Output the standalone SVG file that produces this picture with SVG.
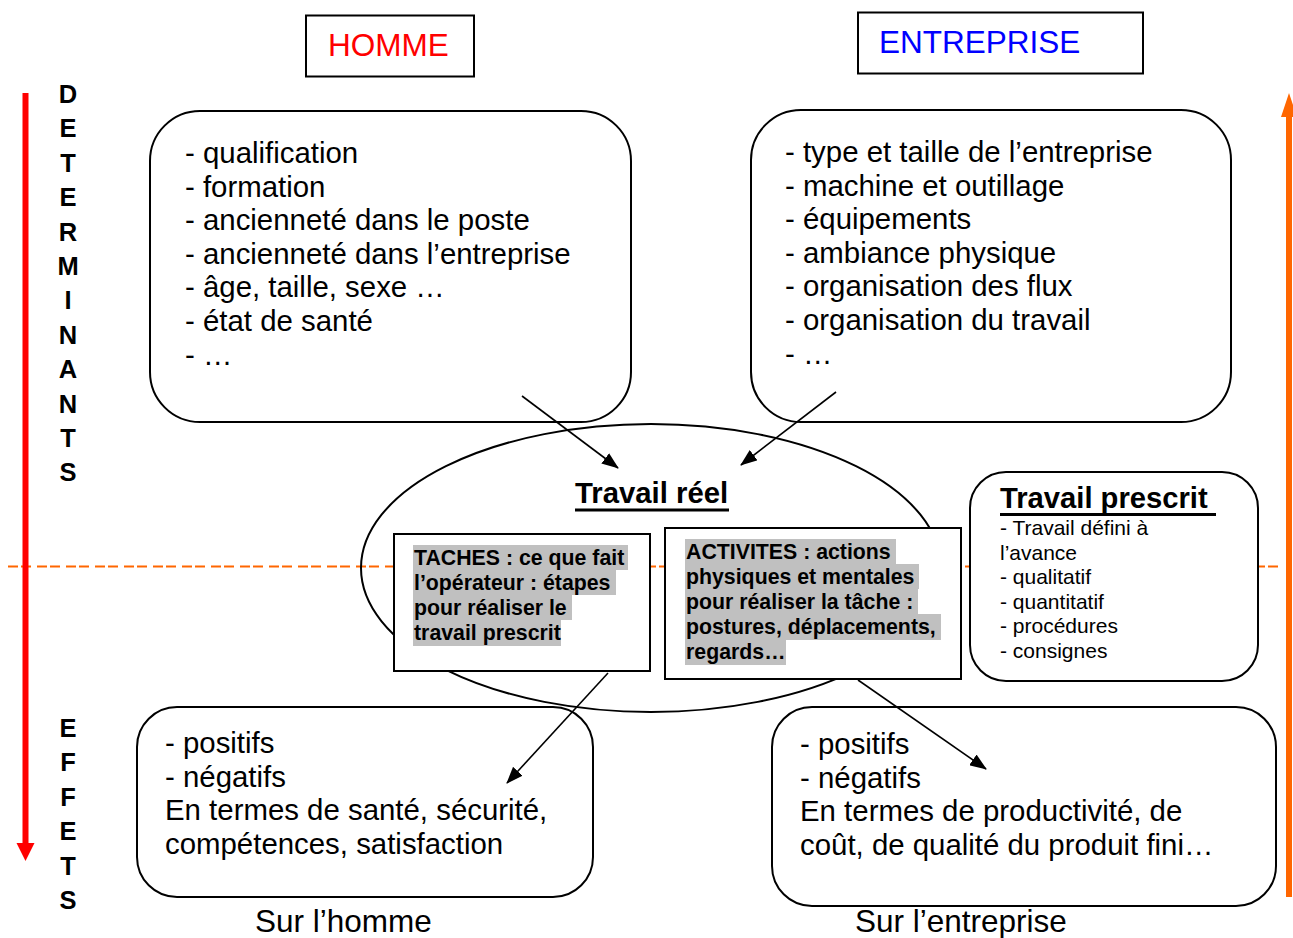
<svg xmlns="http://www.w3.org/2000/svg" width="1293" height="938" viewBox="0 0 1293 938">
<defs>
<style>
.t{font-family:"Liberation Sans",Arial,sans-serif;fill:#000}
.lg{font-size:29.4px}
.sm{font-size:21px}
.md{font-size:21.3px;font-weight:bold}
.b{font-weight:bold}
.vt{font-family:"Liberation Sans",Arial,sans-serif;font-weight:bold;font-size:25.5px;text-anchor:middle}
.box{fill:#fff;stroke:#000;stroke-width:2}
.conn{stroke:#000;stroke-width:1.6;fill:none}
.hl{fill:#c0c0c0}
</style>
<marker id="ahk" viewBox="0 0 17 13" refX="16" refY="6.5" markerWidth="17" markerHeight="13" markerUnits="userSpaceOnUse" orient="auto">
<path d="M0,0 L17,6.5 L0,13 z" fill="#000"/>
</marker>
</defs>
<rect width="1293" height="938" fill="#fff"/>

<g id="axes">
<line x1="8" y1="566.5" x2="1283" y2="566.5" stroke="#ff6600" stroke-width="2" stroke-dasharray="10 3 10 6"/>
<rect x="22.5" y="93" width="6" height="751" fill="#ff0000"/>
<path d="M16.5,843 L34.5,843 L25.5,861 z" fill="#ff0000"/>
<rect x="1286" y="116" width="6" height="781" fill="#ff6600"/>
<path d="M1281,117 L1297,117 L1289,93 z" fill="#ff6600"/>
</g>

<g id="label-determinants">
<text class="vt" x="68" y="103">D</text>
<text class="vt" x="68" y="137.4">E</text>
<text class="vt" x="68" y="171.8">T</text>
<text class="vt" x="68" y="206.2">E</text>
<text class="vt" x="68" y="240.6">R</text>
<text class="vt" x="68" y="275">M</text>
<text class="vt" x="68" y="309.4">I</text>
<text class="vt" x="68" y="343.8">N</text>
<text class="vt" x="68" y="378.2">A</text>
<text class="vt" x="68" y="412.6">N</text>
<text class="vt" x="68" y="447">T</text>
<text class="vt" x="68" y="481.4">S</text>
</g>
<g id="label-effets">
<text class="vt" x="68" y="737">E</text>
<text class="vt" x="68" y="771.4">F</text>
<text class="vt" x="68" y="805.8">F</text>
<text class="vt" x="68" y="840.2">E</text>
<text class="vt" x="68" y="874.6">T</text>
<text class="vt" x="68" y="909">S</text>
</g>

<g id="homme">
<rect class="box" x="306" y="15.5" width="168" height="61"/>
<text class="t" x="328" y="56" style="font-size:31.5px;fill:#ff0000">HOMME</text>
</g>
<g id="entreprise">
<rect class="box" x="858" y="12.5" width="285" height="61"/>
<text class="t" x="879" y="53" style="font-size:31.5px;fill:#0000ff">ENTREPRISE</text>
</g>

<g id="det-homme">
<rect class="box" x="150" y="111" width="481" height="311" rx="50"/>
<text class="t lg" x="185" y="163">- qualification</text>
<text class="t lg" x="185" y="196.6">- formation</text>
<text class="t lg" x="185" y="230.2">- ancienneté dans le poste</text>
<text class="t lg" x="185" y="263.8">- ancienneté dans l’entreprise</text>
<text class="t lg" x="185" y="297.4">- âge, taille, sexe …</text>
<text class="t lg" x="185" y="331">- état de santé</text>
<text class="t lg" x="185" y="364.6">- …</text>
</g>

<g id="det-entreprise">
<rect class="box" x="751" y="110" width="480" height="312" rx="50"/>
<text class="t lg" x="785" y="162">- type et taille de l’entreprise</text>
<text class="t lg" x="785" y="195.6">- machine et outillage</text>
<text class="t lg" x="785" y="229.2">- équipements</text>
<text class="t lg" x="785" y="262.8">- ambiance physique</text>
<text class="t lg" x="785" y="296.4">- organisation des flux</text>
<text class="t lg" x="785" y="330">- organisation du travail</text>
<text class="t lg" x="785" y="363.6">- …</text>
</g>

<g id="travail-reel">
<ellipse cx="651" cy="568" rx="290" ry="144" fill="none" stroke="#000" stroke-width="2"/>
<text class="t b" x="575" y="503" style="font-size:29.3px">Travail réel</text>
<line x1="575" y1="510" x2="729" y2="510" stroke="#000" stroke-width="3"/>
</g>

<g id="taches">
<rect class="box" x="394" y="534" width="256" height="137"/>
<rect class="hl" x="413" y="545" width="215" height="25"/>
<rect class="hl" x="413" y="570" width="203" height="25"/>
<rect class="hl" x="413" y="595" width="159" height="25"/>
<rect class="hl" x="413" y="620" width="148" height="26"/>
<text class="t md" x="414" y="565">TACHES : ce que fait</text>
<text class="t md" x="414" y="590">l’opérateur : étapes</text>
<text class="t md" x="414" y="615">pour réaliser le</text>
<text class="t md" x="414" y="640">travail prescrit</text>
</g>

<g id="activites">
<rect class="box" x="665" y="528" width="296" height="151"/>
<rect class="hl" x="685" y="539" width="211" height="25"/>
<rect class="hl" x="685" y="564" width="234" height="25"/>
<rect class="hl" x="685" y="589" width="233" height="25"/>
<rect class="hl" x="685" y="614" width="256" height="26"/>
<rect class="hl" x="685" y="640" width="101" height="25"/>
<text class="t md" x="686" y="559">ACTIVITES : actions</text>
<text class="t md" x="686" y="584">physiques et mentales</text>
<text class="t md" x="686" y="609">pour réaliser la tâche :</text>
<text class="t md" x="686" y="634">postures, déplacements,</text>
<text class="t md" x="686" y="659">regards…</text>
</g>

<g id="travail-prescrit">
<rect class="box" x="970" y="472" width="288" height="209" rx="36"/>
<text class="t b" x="1000" y="508" style="font-size:29.2px">Travail prescrit</text>
<line x1="1000" y1="514.5" x2="1216" y2="514.5" stroke="#000" stroke-width="3"/>
<text class="t sm" x="1000" y="535">- Travail défini à</text>
<text class="t sm" x="1000" y="559.6">l’avance</text>
<text class="t sm" x="1000" y="584.2">- qualitatif</text>
<text class="t sm" x="1000" y="608.8">- quantitatif</text>
<text class="t sm" x="1000" y="633.4">- procédures</text>
<text class="t sm" x="1000" y="658">- consignes</text>
</g>

<g id="effets-homme">
<rect class="box" x="137" y="707" width="456" height="190" rx="40"/>
<text class="t lg" x="165" y="753">- positifs</text>
<text class="t lg" x="165" y="786.6">- négatifs</text>
<text class="t lg" x="165" y="820.2">En termes de santé, sécurité,</text>
<text class="t lg" x="165" y="853.8">compétences, satisfaction</text>
</g>

<g id="effets-entreprise">
<rect class="box" x="772" y="707" width="504" height="199" rx="40"/>
<text class="t lg" x="800" y="754">- positifs</text>
<text class="t lg" x="800" y="787.6">- négatifs</text>
<text class="t lg" x="800" y="821.2">En termes de productivité, de</text>
<text class="t lg" x="800" y="854.8">coût, de qualité du produit fini…</text>
</g>

<g id="captions">
<text class="t" x="255" y="932" style="font-size:31.5px">Sur l’homme</text>
<text class="t" x="855" y="932" style="font-size:31.5px">Sur l’entreprise</text>
</g>

<g id="connectors">
<line class="conn" x1="522" y1="396" x2="618" y2="468" marker-end="url(#ahk)"/>
<line class="conn" x1="836" y1="392" x2="741" y2="465" marker-end="url(#ahk)"/>
<line class="conn" x1="608" y1="673" x2="507" y2="783" marker-end="url(#ahk)"/>
<line class="conn" x1="858" y1="680" x2="986" y2="769" marker-end="url(#ahk)"/>
</g>
</svg>
